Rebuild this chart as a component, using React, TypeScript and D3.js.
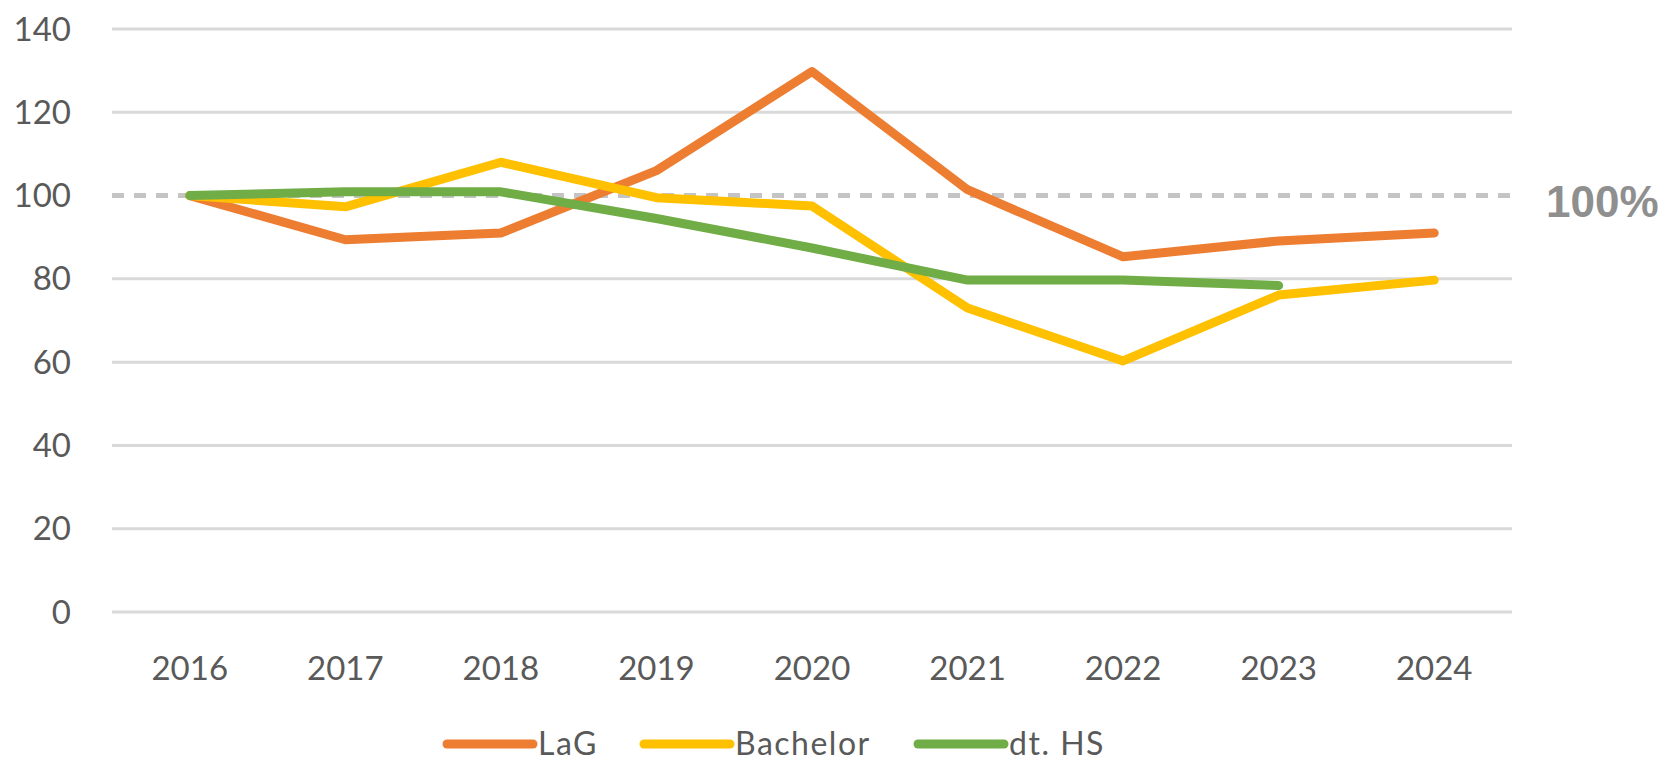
import React, { useRef, useEffect } from "react";
import * as d3 from "d3";

const years = ["2016", "2017", "2018", "2019", "2020", "2021", "2022", "2023", "2024"];
const lagValues = [100, 89.4, 91, 106, 129.8, 101.4, 85.3, 89.1, 91];
const bachelorValues = [100, 97.3, 108, 99.5, 97.5, 73, 60.3, 76.1, 79.7];
const hsValues = [100, 100.9, 100.9, 94.5, 87.4, 79.7, 79.7, 78.4];
const yTicks = [0, 20, 40, 60, 80, 100, 120, 140];

const seriesNames = ["LaG", "Bachelor", "dt. HS"];
const seriesColors = ["#ED7D31", "#FFC000", "#70AD47"];

const W = 1670;
const H = 765;

const App = () => {
  const svgRef = useRef(null);

  useEffect(() => {
    const svg = d3.select(svgRef.current);
    svg.selectAll("*").remove();

    const margin = { top: 29, right: 158, bottom: 153, left: 112 };
    const x = d3
      .scalePoint()
      .domain(years)
      .range([margin.left, W - margin.right])
      .padding(0.5);
    const y = d3
      .scaleLinear()
      .domain([0, 140])
      .range([H - margin.bottom, margin.top]);

    const font = "Lato, 'Open Sans', sans-serif";

    // gridlines (skip 100, drawn dashed)
    svg
      .append("g")
      .selectAll("line")
      .data(yTicks.filter((t) => t !== 100))
      .enter()
      .append("line")
      .attr("x1", margin.left)
      .attr("x2", W - margin.right)
      .attr("y1", (d) => y(d))
      .attr("y2", (d) => y(d))
      .attr("stroke", "#d9d9d9")
      .attr("stroke-width", 3);

    // 100% reference line
    svg
      .append("line")
      .attr("x1", margin.left)
      .attr("x2", W - margin.right + 6)
      .attr("y1", y(100))
      .attr("y2", y(100))
      .attr("stroke", "#c4c4c4")
      .attr("stroke-width", 5)
      .attr("stroke-dasharray", "12,10");

    svg
      .append("text")
      .attr("x", W - 124)
      .attr("y", y(100) + 6)
      .attr("dy", "0.36em")
      .attr("font-family", "'Liberation Sans', Arial, sans-serif")
      .attr("font-weight", "bold")
      .attr("font-size", 44)
      .attr("fill", "#8f8f8f")
      .text("100%");

    // y labels
    svg
      .append("g")
      .selectAll("text")
      .data(yTicks)
      .enter()
      .append("text")
      .attr("x", 71)
      .attr("y", (d) => y(d))
      .attr("dy", "0.35em")
      .attr("text-anchor", "end")
      .attr("font-family", font)
      .attr("font-size", 33)
      .attr("fill", "#595959")
      .text((d) => d);

    // x labels
    svg
      .append("g")
      .selectAll("text")
      .data(years)
      .enter()
      .append("text")
      .attr("x", (d) => x(d))
      .attr("y", 668)
      .attr("dy", "0.35em")
      .attr("text-anchor", "middle")
      .attr("font-family", font)
      .attr("font-size", 33)
      .attr("fill", "#595959")
      .text((d) => d);

    const line = d3
      .line<number>()
      .x((d, i) => x(years[i]))
      .y((d) => y(d));

    [lagValues, bachelorValues, hsValues].forEach((vals, i) => {
      svg
        .append("path")
        .attr("d", line(vals))
        .attr("fill", "none")
        .attr("stroke", seriesColors[i])
        .attr("stroke-width", 9)
        .attr("stroke-linejoin", "round")
        .attr("stroke-linecap", "round");
    });

    // legend
    const legendX = [447, 644, 918];
    const legendY = 744;
    const lg = svg.append("g");
    seriesNames.forEach((name, i) => {
      lg.append("line")
        .attr("x1", legendX[i])
        .attr("x2", legendX[i] + 86)
        .attr("y1", legendY)
        .attr("y2", legendY)
        .attr("stroke", seriesColors[i])
        .attr("stroke-width", 9)
        .attr("stroke-linecap", "round");
      lg.append("text")
        .attr("x", legendX[i] + 91)
        .attr("y", legendY)
        .attr("dy", "0.35em")
        .attr("font-family", font)
        .attr("font-size", 32)
        .attr("letter-spacing", 1.5)
        .attr("fill", "#595959")
        .text(name);
    });
  }, []);

  return (
    <svg
      ref={svgRef}
      width={W}
      height={H}
      style={{ position: "absolute", left: 0, top: 0, background: "#fff" }}
    />
  );
};

export default App;
